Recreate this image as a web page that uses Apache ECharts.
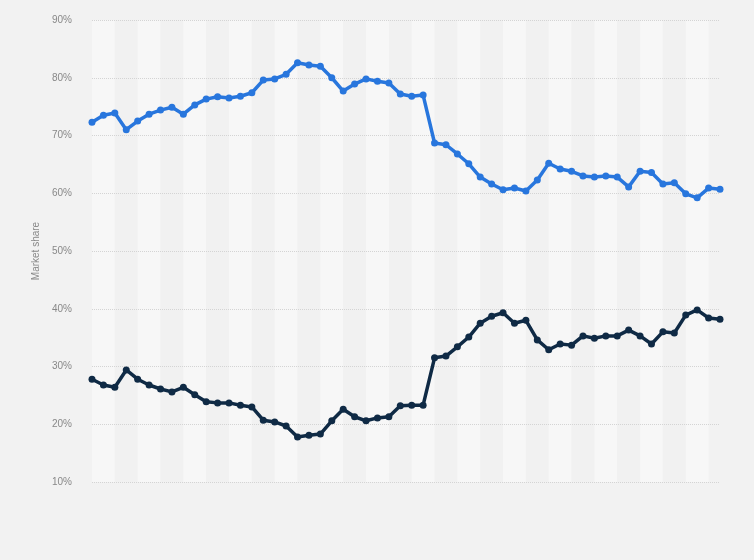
<!DOCTYPE html>
<html>
<head>
<meta charset="utf-8">
<script src="https://cdn.jsdelivr.net/npm/echarts@6/dist/echarts.min.js"></script>
<style>html,body{margin:0;padding:0;background:#f2f2f2}#main{width:754px;height:560px}</style>
</head>
<body>
<div id="main"></div>
<script>
// market share, one point per period (56 periods)
var blueShare = [72.3,73.5,73.9,71.0,72.5,73.7,74.4,74.9,73.7,75.3,76.3,76.7,76.5,76.8,77.4,79.6,79.8,80.6,82.6,82.2,
  82.0,80.0,77.7,78.9,79.8,79.4,79.1,77.2,76.8,77.0,68.7,68.4,66.8,65.1,62.8,61.6,60.6,60.9,60.4,62.3,
  65.2,64.2,63.8,63.0,62.8,63.0,62.8,61.1,63.8,63.6,61.6,61.8,59.9,59.2,60.9,60.7];
var darkShare = [27.8,26.8,26.4,29.4,27.8,26.8,26.1,25.6,26.4,25.1,23.9,23.7,23.7,23.3,23.0,20.7,20.4,19.7,17.8,18.1,
  18.3,20.6,22.6,21.3,20.6,21.1,21.3,23.2,23.3,23.3,31.5,31.8,33.4,35.1,37.5,38.7,39.3,37.5,38.0,34.6,
  32.9,33.9,33.7,35.3,34.9,35.3,35.3,36.3,35.3,33.9,36.0,35.8,38.9,39.8,38.4,38.2];
var periods = blueShare.map(function (v, i) { return String(i + 1); });
var yTicks = {min: 10, max: 90, interval: 10};

var myChart = echarts.init(document.getElementById('main'));
myChart.setOption({
    backgroundColor: '#f2f2f2',
    animation: false,
    grid: {left: 92, right: 34, top: 20, bottom: 78},
    xAxis: {
        type: 'category',
        data: periods,
        boundaryGap: false,
        z: 0,
        axisLine: {show: false},
        axisTick: {show: false},
        axisLabel: {show: false},
        splitLine: {show: false},
        splitArea: {show: true, interval: 1, areaStyle: {color: ['#f7f7f7', '#f1f1f1']}}
    },
    yAxis: {
        type: 'value',
        z: 1,
        min: yTicks.min, max: yTicks.max, interval: yTicks.interval,
        name: 'Market share',
        nameLocation: 'middle',
        nameGap: 48,
        nameTextStyle: {color: '#888', fontSize: 10, fontFamily: 'Arial'},
        axisLine: {show: false},
        axisTick: {show: false},
        axisLabel: {color: '#888', fontSize: 10, fontFamily: 'Arial', formatter: '{value}%', margin: 20},
        splitLine: {lineStyle: {color: '#d4d4d4', type: 'dotted'}}
    },
    series: [
        {type: 'line', z: 3, data: blueShare, color: '#2876dd', symbol: 'circle', symbolSize: 7, lineStyle: {width: 3.5}},
        {type: 'line', z: 3, data: darkShare, color: '#0f2a45', symbol: 'circle', symbolSize: 7, lineStyle: {width: 3.5}}
    ]
});
</script>
</body>
</html>
